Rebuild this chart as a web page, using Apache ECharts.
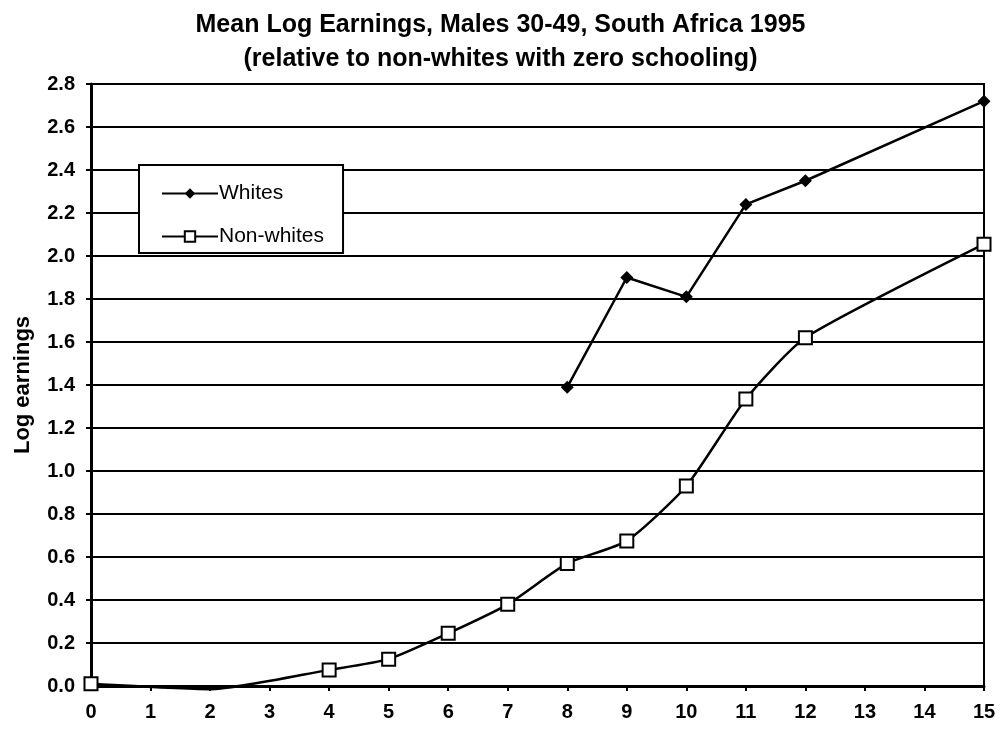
<!DOCTYPE html>
<html>
<head>
<meta charset="utf-8">
<script src="https://cdn.jsdelivr.net/npm/echarts@6/dist/echarts.min.js"></script>
<style>
  html, body { margin: 0; padding: 0; background: #fff; }
  #chart { width: 1001px; height: 731px; }
</style>
</head>
<body>
<div id="chart"></div>
<script>
// Years of schooling and mean log earnings (relative to non-whites, zero schooling)
const whitesYears = [8, 9, 10, 11, 12, 15];
const whitesValues = [1.39, 1.90, 1.81, 2.24, 2.35, 2.72];
const nonWhitesYears = [0, 2, 4, 5, 6, 7, 8, 9, 10, 11, 12, 15];
const nonWhitesValues = [0.01, -0.015, 0.075, 0.125, 0.245, 0.38, 0.57, 0.675, 0.93, 1.335, 1.62, 2.055];
// The dip at 2 years has no marker
const hiddenMarkerYears = [2];

const titleLines = ['Mean Log Earnings, Males 30-49, South Africa 1995',
                    '(relative to non-whites with zero schooling)'];
const yAxisName = 'Log earnings';
const seriesNames = ['Whites', 'Non-whites'];

const font = 'Liberation Sans, Arial, sans-serif';

function pairs(xs, ys, hidden) {
  return xs.map((x, i) => {
    const item = { value: [x, ys[i]] };
    if (hidden && hidden.includes(x)) item.symbol = 'none';
    return item;
  });
}

const chart = echarts.init(document.getElementById('chart'));
chart.setOption({
  backgroundColor: '#fff',
  animation: false,
  title: {
    text: titleLines.join('\n'),
    left: 'center',
    top: 3,
    textStyle: { fontFamily: font, fontWeight: 'bold', fontSize: 25, lineHeight: 34, color: '#000' }
  },
  grid: {
    left: 91, right: 17, top: 84, bottom: 45,
    show: true, borderColor: '#000', borderWidth: 2, backgroundColor: 'transparent'
  },
  legend: {
    left: 139, top: 165,
    orient: 'vertical',
    backgroundColor: '#fff',
    borderColor: '#000',
    borderWidth: 2,
    padding: [18, 19, 6, 22],
    itemGap: 22,
    itemWidth: 56,
    itemHeight: 13,
    z: 10,
    textStyle: { fontFamily: font, fontSize: 21, color: '#000', padding: [0, 0, 0, -4] },
    data: [
      { name: seriesNames[0] },
      { name: seriesNames[1] }
    ]
  },
  xAxis: {
    type: 'value',
    min: 0, max: 15, interval: 1,
    axisLine: { onZero: false, lineStyle: { color: '#000', width: 3 } },
    axisTick: { show: true, length: 5, lineStyle: { color: '#000', width: 2 } },
    axisLabel: { margin: 16, fontFamily: font, fontWeight: 'bold', fontSize: 20, color: '#000' },
    splitLine: { show: false }
  },
  yAxis: {
    type: 'value',
    min: 0, max: 2.8, interval: 0.2,
    name: yAxisName,
    nameLocation: 'middle',
    nameGap: 57,
    nameTextStyle: { fontFamily: font, fontWeight: 'bold', fontSize: 22, color: '#000' },
    axisLine: { show: true, lineStyle: { color: '#000', width: 3 } },
    axisTick: { show: true, length: 5, lineStyle: { color: '#000', width: 2 } },
    axisLabel: {
      margin: 16, fontFamily: font, fontWeight: 'bold', fontSize: 20, color: '#000',
      formatter: v => v.toFixed(1)
    },
    splitLine: { show: true, lineStyle: { color: '#000', width: 2 } }
  },
  series: [
    {
      name: seriesNames[0],
      type: 'line',
      data: pairs(whitesYears, whitesValues),
      symbol: 'diamond',
      symbolSize: 13,
      lineStyle: { color: '#000', width: 2.5 },
      itemStyle: { color: '#000' },
      clip: false,
      z: 3
    },
    {
      name: seriesNames[1],
      type: 'line',
      data: pairs(nonWhitesYears, nonWhitesValues, hiddenMarkerYears),
      smooth: 0.2,
      symbol: 'emptyRect',
      symbolSize: 13,
      lineStyle: { color: '#000', width: 2.5 },
      itemStyle: { color: '#000', borderColor: '#000', borderWidth: 2 },
      clip: false,
      z: 3
    }
  ]
});
</script>
</body>
</html>
